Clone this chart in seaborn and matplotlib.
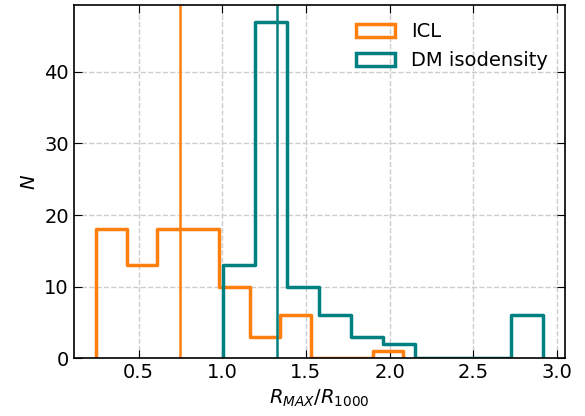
import numpy as np
import matplotlib
matplotlib.use('Agg')
import matplotlib.pyplot as plt
from matplotlib.patches import Patch
import seaborn as sns

# Histogram bin edges and counts
icl_edges = [0.246, 0.430, 0.613, 0.797, 0.980, 1.164, 1.347, 1.531, 1.714, 1.898, 2.081]
icl_counts = [18, 13, 18, 18, 10, 3, 6, 0, 0, 1]
dm_edges = [1.006, 1.197, 1.388, 1.579, 1.770, 1.961, 2.152, 2.343, 2.533, 2.724, 2.915]
dm_counts = [13, 47, 10, 6, 3, 2, 0, 0, 0, 6]
icl_median = 0.75
dm_median = 1.326

icl_color = '#ff7f0e'
dm_color = '#008080'

sns.set_style('ticks')
plt.rcParams['font.family'] = ['DejaVu Sans']
plt.rcParams['font.size'] = 14
plt.rcParams['text.color'] = 'black'
plt.rcParams['axes.labelcolor'] = 'black'
plt.rcParams['xtick.color'] = 'black'
plt.rcParams['ytick.color'] = 'black'
plt.rcParams['axes.edgecolor'] = 'black'

fig = plt.figure(figsize=(5.85, 4.16), dpi=100)
ax = fig.add_axes([0.126, 0.139, 0.840, 0.849])

for edges, counts, color in [(icl_edges, icl_counts, icl_color),
                             (dm_edges, dm_counts, dm_color)]:
    e = np.array(edges)
    centers = (e[:-1] + e[1:]) / 2
    sns.histplot(x=centers, weights=counts, bins=edges, element='step',
                 fill=False, color=color, linewidth=2.5, ax=ax)
    # close the outline down to zero at both ends, like a step histogram
    line = ax.get_lines()[-1]
    xs, ys = line.get_data()
    line.set_data(np.r_[xs[0], xs, xs[-1]], np.r_[0, ys, 0])

ax.axvline(icl_median, color=icl_color, lw=1.8)
ax.axvline(dm_median, color=dm_color, lw=1.8)

ax.set_xlabel('$R_{MAX}/R_{1000}$', fontsize=14)
ax.set_ylabel('$N$', fontsize=14)
ax.set_ylim(0, max(dm_counts) * 1.05)
ax.set_yticks([0, 10, 20, 30, 40])
ax.set_xticks([0.5, 1.0, 1.5, 2.0, 2.5, 3.0])
ax.tick_params(direction='in', top=True, right=True, length=6, labelsize=14)
ax.grid(True, ls='--', color='#cccccc', lw=1)
for s in ax.spines.values():
    s.set_linewidth(1.2)

handles = [Patch(facecolor='none', edgecolor=icl_color, lw=2.5, label='ICL'),
           Patch(facecolor='none', edgecolor=dm_color, lw=2.5, label='DM isodensity')]
ax.legend(handles=handles, loc='upper right', frameon=False, fontsize=14)

fig.savefig('out.png', dpi=100)
